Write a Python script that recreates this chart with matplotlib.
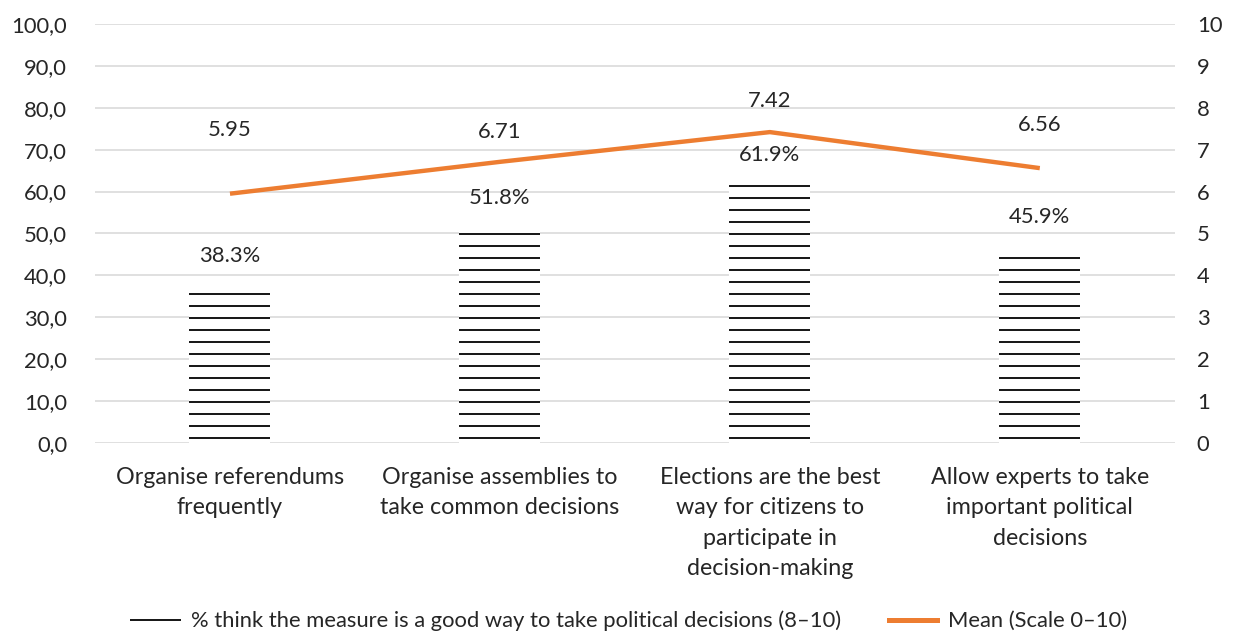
import numpy as np
import matplotlib.pyplot as plt
from matplotlib.lines import Line2D

# data
categories = ["Organise referendums\nfrequently",
              "Organise assemblies to\ntake common decisions",
              "Elections are the best\nway for citizens to\nparticipate in\ndecision-making",
              "Allow experts to take\nimportant political\ndecisions"]
share_good = [38.3, 51.8, 61.9, 45.9]      # % rating 8-10
mean_score = [5.95, 6.71, 7.42, 6.56]      # mean on 0-10 scale

bar_label_off = [13.5, 14, 14.5, 17]       # points above bar top
mean_label_off = [32, 15, 15.5, 21.5]      # points above line point

plt.rcParams['font.family'] = ['Lato', 'DejaVu Sans']
plt.rcParams['hatch.linewidth'] = 1.0

dpi = 144
fig = plt.figure(figsize=(1234 / dpi, 635 / dpi), dpi=dpi)
ax = fig.add_axes([0.077, 0.3024, 0.875, 0.6598])
ax2 = ax.twinx()

x = np.arange(len(categories))
ax.bar(x, share_good, width=0.30, facecolor='white', edgecolor='#1a1a1a',
       linewidth=0, hatch='--', zorder=2)
for xi, v, off in zip(x, share_good, bar_label_off):
    ax.annotate(f"{v:.1f}%", (xi, v), xytext=(0, off), textcoords='offset points',
                ha='center', va='center', fontsize=11, color='#262626')

ax2.plot(x, mean_score, color='#ED7D31', lw=2.2, solid_capstyle='butt', zorder=3)
for xi, v, off in zip(x, mean_score, mean_label_off):
    ax2.annotate(f"{v:.2f}", (xi, v), xytext=(0, off), textcoords='offset points',
                 ha='center', va='center', fontsize=11, color='#262626')

ax.set_xlim(-0.5, 3.5)
ax.set_ylim(0, 100)
ax.set_yticks(np.arange(0, 101, 10))
ax.set_yticklabels([f"{t:.1f}".replace('.', ',') for t in range(0, 101, 10)])
ax2.set_ylim(0, 10)
ax2.set_yticks(range(0, 11))

ax.set_xticks(x)
ax.set_xticklabels(categories, fontsize=11.6, color='#262626', linespacing=1.55)
ax.yaxis.grid(True, color='#d9d9d9', lw=0.8, zorder=0)
ax.set_axisbelow(True)

for a in (ax, ax2):
    for s in a.spines.values():
        s.set_visible(False)
    a.tick_params(length=0, labelsize=11, labelcolor='#262626')
ax.tick_params(axis='x', labelsize=11.6)
ax.tick_params(axis='y', pad=14)
ax2.tick_params(axis='y', pad=11)
ax.tick_params(axis='x', pad=12)

handles = [Line2D([], [], color='#1a1a1a', lw=1.0),
           Line2D([], [], color='#ED7D31', lw=2.5)]
labels = ["% think the measure is a good way to take political decisions (8\u201310)",
          "Mean (Scale 0\u201310)"]
fig.legend(handles, labels, loc='center', bbox_to_anchor=(0.51, 0.022), ncol=2,
           frameon=False, fontsize=11, handlelength=2.2, columnspacing=2.2,
           handletextpad=0.5, labelcolor='#262626')

fig.savefig('out.png', dpi=dpi)
